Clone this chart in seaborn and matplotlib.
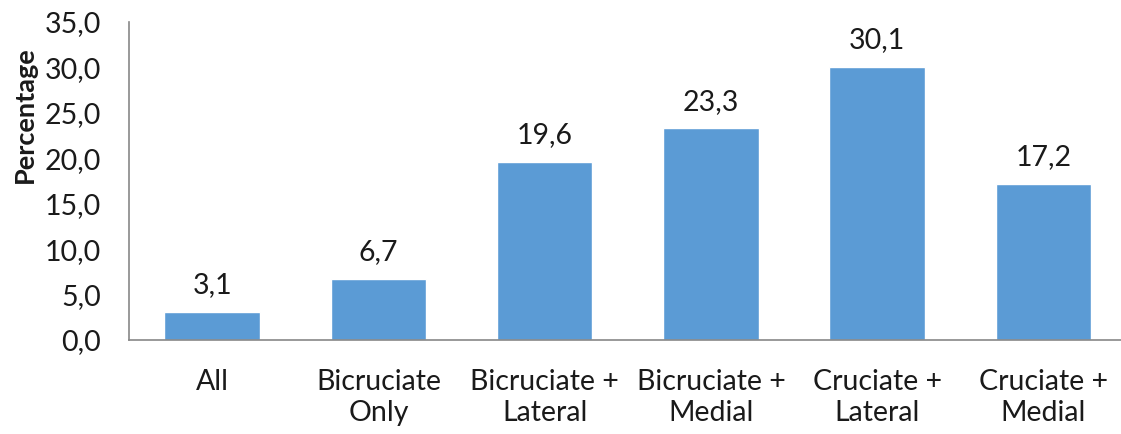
import matplotlib
matplotlib.use("Agg")
import matplotlib.pyplot as plt
import seaborn as sns
import pandas as pd

categories = ["All", "Bicruciate\nOnly", "Bicruciate +\nLateral", "Bicruciate +\nMedial",
              "Cruciate +\nLateral", "Cruciate +\nMedial"]
values = [3.1, 6.7, 19.6, 23.3, 30.1, 17.2]
yticks = [0, 5, 10, 15, 20, 25, 30, 35]

sns.set_theme(style="white")
plt.rcParams['font.family'] = ['Lato', 'DejaVu Sans']

df = pd.DataFrame({"cat": categories, "val": values})

fig = plt.figure(figsize=(11.21, 4.34), dpi=100)
ax = fig.add_axes([129/1121, 1-340/434, (1121-129)/1121 + 0.005, (340-22)/434])
sns.barplot(data=df, x="cat", y="val", color="#5B9BD5", saturation=1, width=0.575, ax=ax)

for i, v in enumerate(values):
    ax.text(i, v + 1.5, f"{v:.1f}".replace(".", ","), ha="center", va="bottom", fontsize=20.5, color="#1a1a1a")

ax.set_ylim(0, 35)
ax.set_yticks(yticks)
ax.set_yticklabels([f"{t:.1f}".replace(".", ",") for t in yticks], fontsize=20.5, color="#1a1a1a")
ax.tick_params(axis="x", labelsize=20.5, colors="#1a1a1a", length=0, pad=21)
ax.tick_params(axis="y", length=0, pad=20)
for lbl in ax.get_xticklabels():
    lbl.set_linespacing(1.25)
ax.set_xlabel("")
ax.set_ylabel("Percentage", fontsize=19.5, fontweight="bold", color="#1a1a1a")
ax.yaxis.set_label_coords(-92/992, (340-115)/318)
ax.set_xlim(-0.5, 5.5)
for s in ["top", "right"]:
    ax.spines[s].set_visible(False)
for s in ["left", "bottom"]:
    ax.spines[s].set_color("#888888")
    ax.spines[s].set_linewidth(1.2)

fig.savefig("out.png", dpi=100)
